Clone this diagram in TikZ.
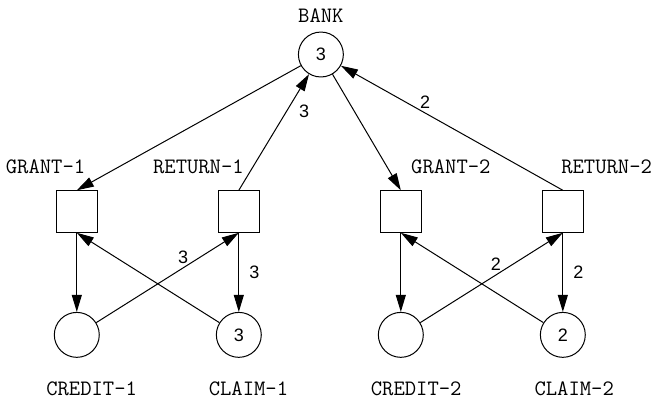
\documentclass[tikz,border=0pt]{standalone}
\usepackage{fontspec}
\usetikzlibrary{calc,positioning,arrows.meta}
\newfontfamily\digitfont{Liberation Sans}

\begin{document}
\begin{tikzpicture}[node distance=1.39cm and 2.1cm, line width=0.5pt]

\tikzset{place/.style={draw,shape=circle,minimum size=0.79cm,inner sep=0pt,font=\digitfont\fontsize{9}{11}\selectfont},
transition/.style={draw,shape=rectangle,minimum size=0.73cm,inner sep=0pt},
tname/.style={font=\ttfamily\fontsize{11}{13}\selectfont,inner sep=0pt},
weight/.style={font=\digitfont\fontsize{9}{11}\selectfont,inner sep=2pt},
flow/.style={-{Triangle[length=8.5pt,width=5pt]}}}

\useasboundingbox (-5.64,-6.054) rectangle (5.82,0.958);

% Bank
\node (bank) [place] at (0,0) {3};
\node (banklbl) [tname] at ($(bank) + (0,0.68)$) {BANK};

% Transitions
\node (grant1) [transition] at (-4.29,-2.76) {};
\node (return1) [transition,right=of grant1] {};
\node (grant2) [transition,right=of return1] {};
\node (return2) [transition,right=of grant2] {};

% Places
\node (credit1) [place,below=of grant1] {};
\node (claim1) [place,below=of return1] {3};
\node (credit2) [place,below=of grant2] {};
\node (claim2) [place,below=of return2] {2};

% Labels
\node (grant1lbl) [tname] at ($(grant1) + (-0.55,0.78)$) {GRANT-1};
\node (return1lbl) [tname] at ($(return1) + (-0.71,0.78)$) {RETURN-1};
\node (grant2lbl) [tname] at ($(grant2) + (0.88,0.78)$) {GRANT-2};
\node (return2lbl) [tname] at ($(return2) + (0.77,0.78)$) {RETURN-2};
\node (credit1lbl) [tname] at ($(credit1) + (0.26,-0.94)$) {CREDIT-1};
\node (claim1lbl) [tname] at ($(claim1) + (0.17,-0.94)$) {CLAIM-1};
\node (credit2lbl) [tname] at ($(credit2) + (0.27,-0.94)$) {CREDIT-2};
\node (claim2lbl) [tname] at ($(claim2) + (0.2,-0.94)$) {CLAIM-2};

% Edges to and from the bank
\draw[flow] (bank) -- (grant1.north);
\draw[flow] (return1.north) -- node[weight,pos=0.68,right=4pt] {3} (bank);
\draw[flow] (bank) -- (grant2.north);
\draw[flow] (return2.north) -- node[weight,pos=0.62,above] {2} (bank);

% Edges of the first client
\draw[flow] (grant1) -- (credit1);
\draw[flow] (credit1) -- node[weight,pos=0.61,above] {3} (return1.south);
\draw[flow] (claim1) -- (grant1.south);
\draw[flow] (return1) -- node[weight,right=3pt] {3} (claim1);

% Edges of the second client
\draw[flow] (grant2) -- (credit2);
\draw[flow] (credit2) -- node[weight,pos=0.53,above] {2} (return2.south);
\draw[flow] (claim2) -- (grant2.south);
\draw[flow] (return2) -- node[weight,right=3pt] {2} (claim2);

\end{tikzpicture}
\end{document}
